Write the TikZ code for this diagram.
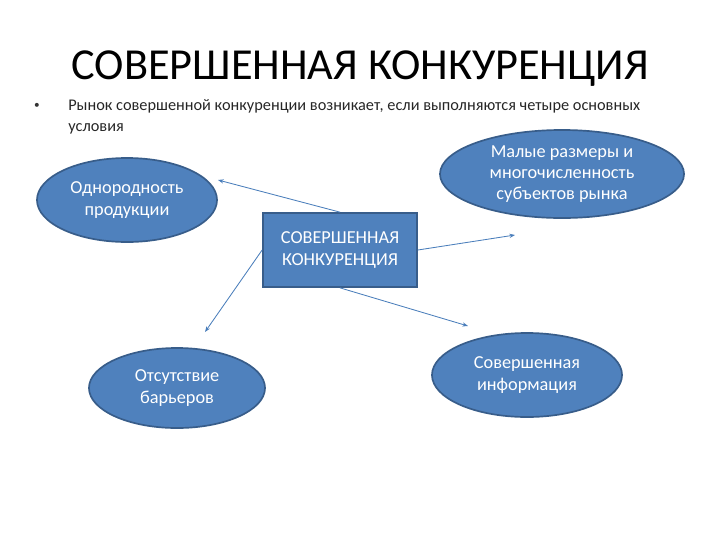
\documentclass[tikz,border=0pt]{standalone}
\usepackage{fontspec}
\setmainfont{Carlito}
\usetikzlibrary{shapes.geometric,arrows.meta}
\definecolor{ovalblue}{HTML}{4F81BD}
\definecolor{ovalline}{HTML}{385D8A}
\definecolor{arrowblue}{HTML}{4A7EBB}

\begin{document}
\begin{tikzpicture}[x=0.025cm, y=-0.025cm,
	oval/.style={ellipse, draw=ovalline, line width=1.2pt, fill=ovalblue, text=white,
		font=\fontsize{13}{15.2}\selectfont, align=center, inner sep=0pt},
	core/.style={rectangle, draw=ovalline, line width=1.2pt, fill=ovalblue, text=white,
		font=\fontsize{13}{15.2}\selectfont, align=center, minimum width=3.85cm, minimum height=1.85cm},
	link/.style={draw=arrowblue, line width=0.6pt, -{Stealth[length=4pt,width=3pt]}}]
				\useasboundingbox (0,0) rectangle (720,540);

				\node [font=\fontsize{31.5}{38}\selectfont] (title) at (360,69) {СОВЕРШЕННАЯ КОНКУРЕНЦИЯ};
				\node [font=\fontsize{8}{10}\selectfont, text=black!80] (dot) at (37,106) {•};
				\node [anchor=west, align=left, inner sep=0pt, text=black!85,
					font=\fontsize{11.6}{15}\selectfont] (intro) at (68,117)
					{Рынок совершенной конкуренции возникает, если выполняются четыре основных\\условия};

				\node [core] (kern) at (340,250) {СОВЕРШЕННАЯ\\КОНКУРЕНЦИЯ};

				\node [oval, minimum width=4.5cm, minimum height=2.1cm] (odn) at (127,200) {Однородность\\продукции};
				\node [oval, minimum width=6.1cm, minimum height=2.2cm] (mal) at (562,174) {Малые размеры и\\многочисленность\\субъектов рынка};
				\node [oval, minimum width=4.4cm, minimum height=2cm] (bar) at (177,388) {Отсутствие\\барьеров};
				\node [oval, minimum width=4.75cm, minimum height=2.1cm] (inf) at (527,375) {Совершенная\\информация};

				\coordinate (odn_tip) at (218,180);
				\coordinate (mal_tip) at (515,235);
				\coordinate (bar_tip) at (205,332);
				\coordinate (inf_tip) at (468,326);

				\draw [link] (kern.north) to (odn_tip);
				\draw [link] (kern.east) to (mal_tip);
				\draw [link] (kern.west) to (bar_tip);
				\draw [link] (kern.south) to (inf_tip);
			\end{tikzpicture}
\end{document}
